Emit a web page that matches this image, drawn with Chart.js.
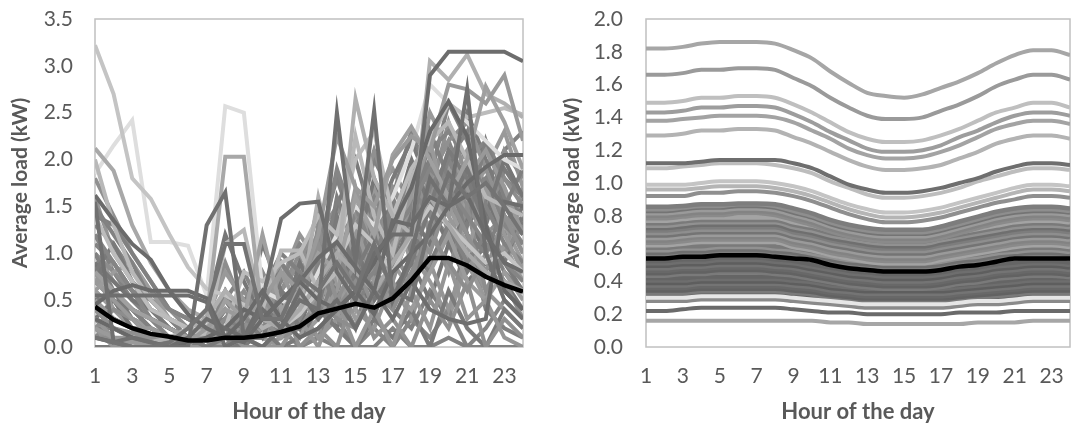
<!DOCTYPE html>
<html lang="en">
<head>
<meta charset="utf-8">
<title>Average load by hour</title>
<script src="https://cdn.jsdelivr.net/npm/chart.js@4.4.1/dist/chart.umd.min.js"></script>
<style>
  body { margin: 0; background: #fff; }
  #leftBox { position: absolute; left: 0; top: 0; width: 540px; height: 427px; }
  #rightBox { position: absolute; left: 540px; top: 0; width: 531px; height: 427px; }
</style>
</head>
<body>
<div id="leftBox"><canvas id="leftChart"></canvas></div>
<div id="rightBox"><canvas id="rightChart"></canvas></div>
<script>
// hours of the day
const hours = [1,2,3,4,5,6,7,8,9,10,11,12,13,14,15,16,17,18,19,20,21,22,23,24];

// left panel: mean profile (black)
const leftMean = [0.43,0.29,0.20,0.14,0.11,0.07,0.07,0.10,0.10,0.12,0.16,0.22,0.36,0.41,0.46,0.42,0.52,0.71,0.95,0.95,0.87,0.75,0.66,0.59];

// left panel: the households that stand out
const leftHighlight = [
  [0.10,0.05,0.00,0.00,0.05,0.20,0.40,1.10,1.10,0.30,0.30,0.75,0.60,0.90,0.60,1.10,0.60,0.50,1.30,1.85,1.60,1.75,1.50,1.20],
  [1.62,1.35,1.10,0.93,0.60,0.35,0.20,0.10,0.05,0.30,0.50,0.70,0.95,1.12,0.85,0.60,1.35,1.30,1.60,1.50,1.62,1.20,0.90,0.80],
  [1.55,0.05,0.10,0.05,0.00,0.00,1.30,1.65,0.10,0.00,0.20,0.50,0.40,2.50,0.90,2.52,0.50,1.00,1.80,1.50,2.75,1.00,0.50,0.30],
  [0.55,0.55,0.55,0.55,0.55,0.55,0.48,0.00,0.10,0.40,0.20,0.60,0.30,0.50,0.20,0.60,0.30,0.70,0.40,0.30,0.25,0.30,1.55,1.50],
  [0.45,0.60,0.66,0.60,0.60,0.60,0.52,0.10,0.30,0.60,0.30,0.10,0.20,0.40,0.60,0.35,0.80,1.00,1.20,1.50,1.75,1.92,2.05,2.05],
  [0.10,0.05,0.00,0.00,0.00,0.10,0.30,0.20,0.10,0.50,1.37,1.53,1.55,0.80,0.50,1.00,1.20,1.20,2.90,3.15,3.15,3.15,3.15,3.05],
  [0.30,0.20,0.10,0.05,0.00,0.05,0.10,0.20,0.40,0.30,0.50,0.70,0.50,0.40,0.60,0.90,1.30,1.70,2.30,2.62,2.25,1.30,0.60,0.40],
  [2.12,1.88,1.30,0.90,0.60,0.40,0.30,2.03,2.03,0.30,0.20,0.40,0.70,1.00,0.80,0.60,0.90,1.20,1.60,1.30,1.00,0.80,0.70,0.60],
  [0.20,0.10,0.05,0.00,0.00,0.05,0.20,0.40,0.30,0.50,0.80,0.60,1.20,2.25,1.70,1.50,2.00,2.25,2.10,2.80,2.75,2.60,2.90,2.20],
  [0.80,0.60,0.40,0.30,0.20,0.10,0.10,0.50,0.30,1.20,0.40,0.60,1.00,0.80,1.60,1.20,2.05,2.35,2.00,1.60,2.00,2.78,2.40,1.90],
  [0.30,0.20,0.10,0.05,0.10,0.20,0.30,0.60,0.40,0.20,0.30,0.40,1.60,0.80,2.65,1.80,1.40,1.20,3.05,2.85,3.12,2.70,2.60,2.45],
  [1.40,1.00,0.70,0.40,0.30,0.20,0.10,0.20,0.80,0.70,0.90,1.00,1.40,1.20,2.00,2.30,1.40,1.90,2.20,2.60,2.45,2.50,2.55,2.48],
  [3.22,2.70,1.80,1.58,1.20,0.85,0.62,0.55,0.45,0.30,0.20,0.35,0.60,0.90,1.30,1.10,0.80,1.20,1.50,1.30,1.10,0.90,1.00,0.80],
  [2.00,1.30,0.80,0.50,0.30,0.20,0.15,1.10,1.25,0.40,1.03,1.03,0.60,0.80,2.25,1.40,1.00,1.80,2.20,2.40,2.00,1.60,1.50,1.40],
  [1.85,2.15,2.42,1.12,1.12,1.08,0.55,2.57,2.50,0.60,0.50,0.40,0.80,1.20,1.50,1.30,1.60,2.10,2.80,2.60,2.40,2.20,2.00,1.90]
];
const leftHighlightColors = ['#737373','#6b6b6b','#707070','#6e6e6e','#6a6a6a','#6d6d6d','#686868','#a8a8a8','#9a9a9a','#a0a0a0','#b0b0b0','#bcbcbc','#c4c4c4','#b8b8b8','#dedede'];

// left panel: the rest of the households
const leftOthers = [
  [1.20,0.90,0.60,0.30,0.10,0.05,0.10,0.60,0.30,0.20,0.40,0.30,0.70,1.00,0.60,0.80,1.20,1.50,1.90,1.70,1.40,1.10,0.90,0.70],
  [0.30,0.20,0.15,0.10,0.10,0.10,0.20,0.40,0.20,0.50,0.30,0.60,1.10,0.50,0.90,0.40,0.70,1.30,1.00,1.60,1.20,0.80,1.40,1.00],
  [0.80,1.10,0.70,0.40,0.20,0.10,0.00,0.10,0.30,0.10,0.60,0.20,0.40,1.40,0.80,1.20,0.50,0.90,1.50,2.10,1.80,1.30,0.90,0.60],
  [0.50,0.30,0.20,0.20,0.10,0.00,0.30,0.80,0.50,0.20,0.10,0.50,0.30,0.60,1.30,0.70,1.00,1.60,2.20,1.40,1.00,1.70,1.20,0.80],
  [1.50,1.20,0.90,0.50,0.30,0.10,0.00,0.00,0.20,0.40,0.20,0.30,0.90,0.40,0.60,1.00,1.40,1.10,1.70,2.00,2.30,1.50,1.10,0.90],
  [0.10,0.10,0.05,0.05,0.05,0.05,0.10,0.30,0.60,0.30,0.10,0.20,0.50,0.30,0.20,0.60,0.40,0.80,1.20,0.90,0.60,1.00,0.70,0.30],
  [0.90,0.70,0.50,0.40,0.30,0.20,0.40,1.20,0.70,0.30,0.50,0.20,0.80,0.60,1.10,0.50,0.80,1.40,1.10,1.50,1.90,1.40,2.00,1.60],
  [0.20,0.00,0.00,0.00,0.00,0.00,0.00,0.20,0.00,0.00,0.00,0.30,0.00,0.50,0.00,0.40,0.00,0.60,0.20,0.90,0.30,0.50,0.10,0.00],
  [1.00,0.60,0.40,0.20,0.10,0.10,0.10,0.30,0.20,0.60,1.00,0.80,0.50,1.60,1.10,0.90,1.50,1.20,2.30,1.80,1.20,1.00,1.50,1.90],
  [0.60,0.80,0.90,0.60,0.30,0.10,0.10,0.00,0.10,0.20,0.30,0.10,0.60,0.90,0.40,1.30,0.60,0.40,0.80,1.20,0.70,0.50,0.80,0.50],
  [1.30,1.10,0.80,0.60,0.40,0.30,0.20,0.50,0.80,0.40,0.20,0.70,1.00,1.30,1.50,1.00,1.20,1.70,1.40,2.00,1.60,1.80,1.30,1.10],
  [0.40,0.20,0.10,0.00,0.00,0.00,0.00,0.10,0.40,0.10,0.50,0.00,0.20,0.00,0.60,0.10,0.30,0.00,0.50,0.20,0.70,0.00,0.30,0.10],
  [0.00,0.00,0.10,0.00,0.00,0.00,0.10,0.00,0.00,0.20,0.00,0.10,0.40,0.20,0.00,0.30,0.10,0.40,0.00,0.60,0.20,0.00,0.40,0.20],
  [0.70,0.50,0.30,0.10,0.00,0.00,0.20,0.40,0.10,0.30,0.80,0.40,1.00,0.70,1.70,0.90,1.10,1.30,1.60,1.40,1.80,2.10,1.70,1.20],
  [1.10,0.90,0.60,0.40,0.20,0.10,0.00,0.00,0.10,0.10,0.20,0.50,0.30,0.80,0.50,0.70,1.60,1.00,0.80,1.30,0.90,1.20,0.80,0.60],
  [0.20,0.40,0.30,0.10,0.10,0.00,0.00,0.20,0.30,0.80,0.40,0.20,1.30,0.40,0.70,0.30,1.00,0.70,1.30,0.80,1.50,0.60,1.00,1.30],
  [0.90,0.50,0.20,0.10,0.00,0.00,0.00,0.10,0.00,0.40,0.20,0.90,0.50,1.20,1.00,1.80,1.30,2.00,1.50,1.10,1.40,1.00,0.70,0.40],
  [0.30,0.10,0.00,0.00,0.00,0.00,0.30,0.60,0.10,0.00,0.10,0.40,0.10,0.30,0.40,0.20,0.70,0.30,0.90,0.40,1.00,0.60,0.40,0.20],
  [1.40,1.30,1.00,0.70,0.40,0.30,0.20,0.30,0.50,0.70,0.90,0.60,1.20,1.00,0.80,1.40,1.00,1.40,2.00,1.70,1.30,2.20,1.60,1.40],
  [0.60,0.40,0.30,0.20,0.10,0.00,0.00,0.10,0.50,0.20,0.00,0.10,0.30,0.70,0.30,0.50,0.90,0.60,1.10,1.50,1.10,0.80,0.60,0.90],
  [0.10,0.30,0.20,0.00,0.00,0.00,0.00,0.00,0.10,0.00,0.20,0.00,0.10,0.30,0.00,0.20,0.00,0.30,0.10,0.40,0.00,0.20,0.50,0.30],
  [1.80,1.40,1.00,0.70,0.40,0.20,0.10,0.20,0.10,0.30,0.60,0.90,1.40,1.10,1.30,0.80,1.70,1.40,1.80,2.20,2.40,1.90,1.40,1.20],
  [0.50,0.60,0.40,0.30,0.20,0.10,0.10,0.20,0.30,1.10,0.60,0.40,0.50,1.00,0.70,1.10,0.80,1.20,0.90,1.30,0.80,1.10,0.90,1.40],
  [0.80,0.40,0.20,0.10,0.10,0.00,0.00,0.00,0.20,0.10,0.00,0.30,0.80,0.30,1.00,0.60,0.40,1.00,0.70,0.30,0.90,0.50,1.10,0.70],
  [0.00,0.00,0.00,0.00,0.00,0.00,0.00,0.00,0.00,0.00,0.00,0.00,0.10,0.00,0.00,0.00,0.20,0.00,0.00,0.10,0.00,0.00,0.00,0.00],
  [1.00,0.80,0.60,0.50,0.30,0.20,0.30,0.90,0.40,0.20,0.60,1.00,0.70,1.30,0.90,1.50,1.10,1.80,1.20,1.60,2.00,1.50,1.80,1.50],
  [0.40,0.30,0.20,0.10,0.00,0.00,0.10,0.30,0.10,0.10,0.30,0.20,0.50,0.20,0.80,0.40,0.60,0.90,0.50,1.10,0.70,0.90,0.60,0.40],
  [1.60,1.00,0.70,0.50,0.40,0.30,0.20,0.10,0.30,0.50,0.30,0.80,0.60,0.90,1.20,0.70,1.00,1.50,1.90,1.20,1.70,1.30,1.00,1.70],
  [0.20,0.10,0.00,0.00,0.00,0.10,0.20,0.50,0.20,0.40,0.10,0.30,0.10,0.60,0.20,0.90,0.40,0.20,0.60,0.30,1.20,0.40,0.20,0.10],
  [0.70,0.90,0.60,0.30,0.10,0.10,0.20,0.10,0.00,0.60,0.90,0.50,0.70,0.40,1.00,1.20,1.50,0.90,1.20,1.90,1.40,1.00,1.30,0.90],
  [0.30,0.20,0.10,0.00,0.00,0.00,0.10,0.00,0.30,0.50,0.70,1.10,0.90,1.90,1.30,1.60,1.20,1.90,2.10,2.30,2.00,2.20,1.80,1.60],
  [0.50,0.30,0.20,0.10,0.10,0.10,0.00,0.30,0.10,0.20,0.40,0.70,1.50,0.90,1.40,2.10,1.50,1.10,1.60,2.40,1.80,1.40,2.10,1.80],
  [0.90,0.60,0.30,0.20,0.10,0.00,0.00,0.00,0.10,0.20,0.50,0.30,0.90,1.50,2.00,1.30,1.80,2.20,1.70,1.90,2.50,2.00,1.50,1.30],
  [0.20,0.10,0.10,0.00,0.00,0.00,0.00,0.10,0.00,0.30,0.20,0.60,0.40,1.10,0.70,1.70,1.00,1.50,2.50,2.10,1.60,1.90,2.30,1.70],
  [1.20,0.80,0.50,0.30,0.20,0.10,0.10,0.40,0.20,0.30,0.90,0.60,1.10,1.80,1.20,2.00,1.60,2.30,1.80,2.60,2.20,1.70,2.10,2.30],
  [0.60,0.40,0.30,0.20,0.10,0.10,0.20,0.30,0.20,0.40,0.60,0.90,1.20,1.50,1.10,1.40,1.70,1.30,1.60,1.90,1.50,1.20,1.40,1.10],
  [0.30,0.50,0.40,0.20,0.10,0.00,0.00,0.10,0.30,0.20,0.50,0.40,0.80,1.20,1.60,1.30,0.90,1.60,2.00,1.70,1.30,1.60,1.20,1.50],
  [1.00,0.70,0.50,0.30,0.20,0.10,0.10,0.20,0.40,0.30,0.70,1.20,0.90,0.70,1.20,1.60,1.90,1.50,1.30,1.70,1.90,1.40,1.70,1.20],
  [0.20,0.20,0.10,0.10,0.00,0.00,0.10,0.40,0.20,0.10,0.40,0.60,1.00,1.30,0.90,1.20,1.40,1.80,2.10,1.50,1.20,1.00,1.30,1.60],
  [0.50,0.30,0.20,0.10,0.10,0.00,0.00,0.00,0.10,0.50,0.30,0.80,1.10,0.80,1.40,1.10,1.30,1.10,1.50,1.80,2.10,1.70,1.40,1.00],
  [0.80,0.60,0.40,0.30,0.20,0.10,0.10,0.30,0.10,0.20,0.30,0.50,0.70,1.10,1.30,1.70,1.50,1.30,1.80,2.20,1.70,1.50,1.20,1.40],
  [0.40,0.20,0.10,0.10,0.00,0.00,0.00,0.20,0.30,0.40,0.20,0.40,0.60,0.90,1.10,0.80,1.20,1.60,1.40,1.20,1.50,1.80,1.60,1.20],
  [0.70,0.50,0.30,0.20,0.10,0.10,0.00,0.10,0.20,0.30,0.50,0.60,0.40,1.00,1.40,1.20,0.90,1.20,1.60,2.00,1.60,1.30,1.90,1.60]
];
const leftOtherColors = ['#858585','#909090','#7a7a7a','#999999','#828282','#8d8d8d','#767676','#959595','#808080','#9c9c9c'];

// right panel: mean profile (black)
const rightMean = [0.54,0.54,0.55,0.55,0.56,0.56,0.56,0.55,0.54,0.53,0.50,0.48,0.47,0.46,0.46,0.46,0.47,0.49,0.50,0.52,0.54,0.54,0.54,0.54];

// right panel: the higher households
const rightUpper = [
  [1.12,1.12,1.12,1.13,1.14,1.14,1.14,1.14,1.12,1.09,1.04,0.99,0.96,0.94,0.94,0.95,0.97,1.00,1.03,1.07,1.10,1.12,1.12,1.11],
  [1.82,1.82,1.83,1.85,1.86,1.86,1.86,1.85,1.81,1.76,1.68,1.61,1.55,1.53,1.52,1.54,1.58,1.62,1.67,1.73,1.78,1.81,1.81,1.78],
  [1.66,1.66,1.67,1.69,1.69,1.70,1.70,1.69,1.64,1.59,1.52,1.46,1.41,1.39,1.39,1.40,1.44,1.48,1.53,1.59,1.63,1.66,1.66,1.63],
  [1.49,1.49,1.50,1.52,1.52,1.53,1.53,1.52,1.48,1.43,1.37,1.31,1.27,1.25,1.25,1.26,1.29,1.33,1.38,1.43,1.46,1.49,1.49,1.46],
  [1.43,1.43,1.44,1.46,1.46,1.47,1.47,1.46,1.42,1.37,1.31,1.26,1.21,1.19,1.19,1.20,1.23,1.28,1.32,1.37,1.41,1.43,1.43,1.41],
  [1.38,1.38,1.39,1.40,1.41,1.41,1.41,1.40,1.37,1.32,1.27,1.21,1.17,1.15,1.15,1.16,1.19,1.23,1.28,1.33,1.36,1.38,1.38,1.36],
  [1.29,1.29,1.30,1.32,1.32,1.33,1.33,1.32,1.28,1.24,1.19,1.14,1.10,1.08,1.08,1.09,1.11,1.15,1.19,1.24,1.27,1.29,1.29,1.27],
  [1.09,1.09,1.10,1.11,1.12,1.12,1.12,1.11,1.09,1.06,1.01,0.97,0.93,0.91,0.91,0.92,0.94,0.97,1.01,1.04,1.07,1.09,1.09,1.08],
  [0.99,0.99,0.99,1.00,1.01,1.01,1.01,1.00,0.98,0.95,0.91,0.87,0.84,0.82,0.82,0.83,0.85,0.88,0.91,0.94,0.97,0.99,0.99,0.98],
  [0.96,0.96,0.96,0.97,0.98,0.98,0.98,0.97,0.95,0.92,0.88,0.84,0.81,0.79,0.79,0.80,0.82,0.85,0.88,0.91,0.94,0.96,0.96,0.95],
  [0.92,0.92,0.92,0.94,0.94,0.95,0.95,0.94,0.92,0.89,0.85,0.81,0.78,0.76,0.76,0.77,0.79,0.82,0.85,0.88,0.90,0.92,0.92,0.91]
];
const rightUpperColors = ['#6e6e6e','#a6a6a6','#9a9a9a','#bfbfbf','#9d9d9d','#a3a3a3','#b3b3b3','#bdbdbd','#c4c4c4','#b5b5b5','#8f8f8f'];

// right panel: the dense middle band
const rightBand = [
  [0.855,0.855,0.86,0.87,0.87,0.875,0.875,0.87,0.845,0.815,0.775,0.745,0.725,0.715,0.715,0.715,0.735,0.765,0.795,0.825,0.845,0.855,0.855,0.845],
  [0.84,0.84,0.85,0.86,0.86,0.87,0.87,0.86,0.83,0.80,0.76,0.73,0.71,0.70,0.70,0.70,0.72,0.75,0.78,0.81,0.83,0.84,0.84,0.83],
  [0.83,0.83,0.84,0.85,0.85,0.86,0.86,0.85,0.82,0.79,0.75,0.72,0.70,0.69,0.69,0.69,0.71,0.74,0.77,0.80,0.82,0.83,0.83,0.82],
  [0.815,0.815,0.825,0.835,0.835,0.845,0.845,0.835,0.805,0.775,0.735,0.705,0.685,0.675,0.675,0.675,0.695,0.725,0.755,0.785,0.805,0.815,0.815,0.805],
  [0.80,0.80,0.81,0.82,0.82,0.83,0.83,0.82,0.79,0.76,0.72,0.69,0.67,0.66,0.66,0.66,0.68,0.71,0.74,0.77,0.79,0.80,0.80,0.79],
  [0.785,0.785,0.795,0.805,0.805,0.815,0.815,0.805,0.775,0.745,0.705,0.675,0.655,0.645,0.645,0.645,0.665,0.695,0.725,0.755,0.775,0.785,0.785,0.775],
  [0.77,0.77,0.78,0.79,0.79,0.79,0.79,0.79,0.76,0.74,0.71,0.69,0.67,0.66,0.66,0.66,0.68,0.70,0.72,0.74,0.76,0.77,0.77,0.76],
  [0.755,0.755,0.765,0.775,0.775,0.775,0.775,0.775,0.745,0.725,0.695,0.675,0.655,0.645,0.645,0.645,0.665,0.685,0.705,0.725,0.745,0.755,0.755,0.745],
  [0.74,0.74,0.75,0.76,0.76,0.76,0.76,0.76,0.73,0.71,0.68,0.66,0.64,0.63,0.63,0.63,0.65,0.67,0.69,0.71,0.73,0.74,0.74,0.73],
  [0.725,0.725,0.735,0.745,0.745,0.745,0.745,0.745,0.715,0.695,0.665,0.645,0.625,0.615,0.615,0.615,0.635,0.655,0.675,0.695,0.715,0.725,0.725,0.715],
  [0.71,0.71,0.72,0.73,0.73,0.73,0.73,0.73,0.70,0.68,0.65,0.63,0.61,0.60,0.60,0.60,0.62,0.64,0.66,0.68,0.70,0.71,0.71,0.70],
  [0.695,0.695,0.705,0.715,0.715,0.715,0.715,0.715,0.685,0.665,0.635,0.615,0.595,0.585,0.585,0.585,0.605,0.625,0.645,0.665,0.685,0.695,0.695,0.685],
  [0.68,0.68,0.69,0.70,0.70,0.70,0.70,0.70,0.67,0.65,0.62,0.60,0.58,0.57,0.57,0.57,0.59,0.61,0.63,0.65,0.67,0.68,0.68,0.67],
  [0.665,0.665,0.675,0.685,0.685,0.685,0.685,0.685,0.655,0.635,0.605,0.585,0.565,0.555,0.555,0.555,0.575,0.595,0.615,0.635,0.655,0.665,0.665,0.655],
  [0.65,0.65,0.66,0.67,0.67,0.67,0.67,0.67,0.64,0.62,0.59,0.57,0.55,0.54,0.54,0.54,0.56,0.58,0.60,0.62,0.64,0.65,0.65,0.64],
  [0.635,0.635,0.645,0.655,0.655,0.655,0.655,0.655,0.625,0.605,0.575,0.555,0.535,0.525,0.525,0.525,0.545,0.565,0.585,0.605,0.625,0.635,0.635,0.625],
  [0.62,0.62,0.63,0.64,0.64,0.64,0.64,0.64,0.61,0.59,0.56,0.54,0.52,0.51,0.51,0.51,0.53,0.55,0.57,0.59,0.61,0.62,0.62,0.61],
  [0.605,0.605,0.615,0.615,0.625,0.625,0.625,0.615,0.605,0.585,0.565,0.545,0.535,0.525,0.525,0.525,0.535,0.555,0.565,0.585,0.595,0.605,0.605,0.595],
  [0.59,0.59,0.60,0.60,0.61,0.61,0.61,0.60,0.59,0.57,0.55,0.53,0.52,0.51,0.51,0.51,0.52,0.54,0.55,0.57,0.58,0.59,0.59,0.58],
  [0.575,0.575,0.585,0.585,0.595,0.595,0.595,0.585,0.575,0.555,0.535,0.515,0.505,0.495,0.495,0.495,0.505,0.525,0.535,0.555,0.565,0.575,0.575,0.565],
  [0.56,0.56,0.57,0.57,0.58,0.58,0.58,0.57,0.56,0.54,0.52,0.50,0.49,0.48,0.48,0.48,0.49,0.51,0.52,0.54,0.55,0.56,0.56,0.55],
  [0.525,0.525,0.535,0.535,0.545,0.545,0.545,0.535,0.525,0.505,0.485,0.465,0.455,0.445,0.445,0.445,0.455,0.475,0.485,0.505,0.515,0.525,0.525,0.515],
  [0.51,0.51,0.52,0.52,0.53,0.53,0.53,0.52,0.51,0.49,0.47,0.45,0.44,0.43,0.43,0.43,0.44,0.46,0.47,0.49,0.50,0.51,0.51,0.50],
  [0.495,0.495,0.505,0.505,0.515,0.515,0.515,0.505,0.495,0.475,0.455,0.435,0.425,0.415,0.415,0.415,0.425,0.445,0.455,0.475,0.485,0.495,0.495,0.485],
  [0.48,0.48,0.49,0.49,0.50,0.50,0.50,0.49,0.48,0.46,0.44,0.42,0.41,0.40,0.40,0.40,0.41,0.43,0.44,0.46,0.47,0.48,0.48,0.47],
  [0.465,0.465,0.475,0.475,0.485,0.485,0.485,0.475,0.465,0.445,0.425,0.405,0.395,0.385,0.385,0.385,0.395,0.415,0.425,0.445,0.455,0.465,0.465,0.455],
  [0.45,0.45,0.46,0.46,0.47,0.47,0.47,0.46,0.45,0.43,0.41,0.39,0.38,0.37,0.37,0.37,0.38,0.40,0.41,0.43,0.44,0.45,0.45,0.44],
  [0.435,0.435,0.445,0.445,0.455,0.455,0.455,0.445,0.435,0.415,0.395,0.375,0.365,0.355,0.355,0.355,0.365,0.385,0.395,0.415,0.425,0.435,0.435,0.425],
  [0.42,0.42,0.42,0.43,0.43,0.43,0.43,0.43,0.42,0.41,0.39,0.38,0.37,0.37,0.37,0.37,0.37,0.38,0.39,0.40,0.41,0.42,0.42,0.42],
  [0.405,0.405,0.405,0.415,0.415,0.415,0.415,0.415,0.405,0.395,0.375,0.365,0.355,0.355,0.355,0.355,0.355,0.365,0.375,0.385,0.395,0.405,0.405,0.405],
  [0.39,0.39,0.39,0.40,0.40,0.40,0.40,0.40,0.39,0.38,0.36,0.35,0.34,0.34,0.34,0.34,0.34,0.35,0.36,0.37,0.38,0.39,0.39,0.39],
  [0.375,0.375,0.375,0.385,0.385,0.385,0.385,0.385,0.375,0.365,0.345,0.335,0.325,0.325,0.325,0.325,0.325,0.335,0.345,0.355,0.365,0.375,0.375,0.375],
  [0.36,0.36,0.36,0.37,0.37,0.37,0.37,0.37,0.36,0.35,0.33,0.32,0.31,0.31,0.31,0.31,0.31,0.32,0.33,0.34,0.35,0.36,0.36,0.36],
  [0.345,0.345,0.345,0.355,0.355,0.355,0.355,0.355,0.345,0.335,0.315,0.305,0.295,0.295,0.295,0.295,0.295,0.305,0.315,0.325,0.335,0.345,0.345,0.345],
  [0.33,0.33,0.33,0.34,0.34,0.34,0.34,0.34,0.33,0.32,0.30,0.29,0.28,0.28,0.28,0.28,0.28,0.29,0.30,0.31,0.32,0.33,0.33,0.33],
  [0.315,0.315,0.315,0.325,0.325,0.325,0.325,0.325,0.315,0.305,0.285,0.275,0.265,0.265,0.265,0.265,0.265,0.275,0.285,0.295,0.305,0.315,0.315,0.315]
];
const rightBandUpperColors = ['#7d7d7d','#8e8e8e','#747474','#9a9a9a','#838383','#8a8a8a','#a3a3a3','#7a7a7a','#919191','#6f6f6f'];
const rightBandLowerColors = ['#656565','#6e6e6e','#5e5e5e','#747474','#686868','#626262','#7a7a7a'];

// right panel: the lowest households
const rightLower = [
  [0.22,0.22,0.23,0.24,0.24,0.24,0.24,0.24,0.23,0.22,0.21,0.21,0.20,0.20,0.20,0.20,0.20,0.21,0.21,0.21,0.22,0.22,0.22,0.22],
  [0.30,0.30,0.30,0.31,0.31,0.31,0.31,0.31,0.30,0.29,0.28,0.27,0.26,0.26,0.26,0.26,0.26,0.27,0.28,0.28,0.29,0.30,0.30,0.30],
  [0.28,0.28,0.28,0.29,0.29,0.29,0.29,0.29,0.28,0.27,0.26,0.25,0.24,0.24,0.24,0.24,0.24,0.25,0.26,0.26,0.27,0.28,0.28,0.28],
  [0.16,0.16,0.16,0.16,0.16,0.16,0.16,0.16,0.16,0.16,0.15,0.15,0.14,0.14,0.14,0.14,0.14,0.14,0.15,0.15,0.15,0.16,0.16,0.16]
];
const rightLowerColors = ['#6a6a6a','#e6e6e6','#8a8a8a','#a6a6a6'];

const lineSet = (data, color, width, smooth) => ({
  data: data,
  borderColor: color,
  borderWidth: width,
  pointRadius: 0,
  fill: false,
  clip: 0,
  tension: smooth ? 0.4 : 0,
  cubicInterpolationMode: smooth ? 'monotone' : 'default'
});

const leftSets = [lineSet(leftMean, '#000000', 4.5, false)];
leftHighlight.forEach((d, i) => leftSets.push(lineSet(d, leftHighlightColors[i], 4, false)));
leftOthers.forEach((d, i) => leftSets.push(lineSet(d, leftOtherColors[i % leftOtherColors.length], 4, false)));

const rightSets = [lineSet(rightMean, '#000000', 4.5, true)];
rightUpper.forEach((d, i) => rightSets.push(lineSet(d, rightUpperColors[i], 4, true)));
rightLower.forEach((d, i) => rightSets.push(lineSet(d, rightLowerColors[i], 4, true)));
rightBand.forEach((d, i) => {
  const pal = i < 21 ? rightBandUpperColors : rightBandLowerColors;
  rightSets.push(lineSet(d, pal[i % pal.length], 4.5, true));
});

const framePlugin = {
  id: 'frame',
  beforeDatasetsDraw(chart) {
    const { ctx, chartArea: a } = chart;
    ctx.save();
    ctx.strokeStyle = '#c0c0c0';
    ctx.lineWidth = 1.5;
    ctx.strokeRect(a.left, a.top, a.right - a.left, a.bottom - a.top);
    ctx.restore();
  }
};

const textColor = '#595959';
const fontFamily = 'Lato, "Open Sans", sans-serif';

// the label gaps go in tickLength (grid hidden), so ticks.padding stays 0
// and does not push the plot area in from the top and right
function buildOptions(yMax, yStep, axisWidth, titlePad, labelGap, padRight) {
  return {
    responsive: true,
    maintainAspectRatio: false,
    animation: false,
    layout: { padding: { left: 0, right: padRight, top: 19, bottom: 0 } },
    plugins: { legend: { display: false }, tooltip: { enabled: false } },
    scales: {
      x: {
        grid: { display: false, drawTicks: true, tickLength: 17 },
        border: { display: false },
        ticks: {
          color: textColor,
          font: { family: fontFamily, size: 21 },
          padding: 0,
          autoSkip: false,
          maxRotation: 0,
          callback: (v, i) => (i % 2 === 0 ? hours[i] : '')
        },
        title: {
          display: true,
          text: 'Hour of the day',
          color: textColor,
          font: { family: fontFamily, size: 22, weight: 'bold' },
          padding: { top: 0, bottom: 2 }
        },
        afterFit: (scale) => { scale.height = 80; }
      },
      y: {
        min: 0,
        max: yMax,
        grid: { display: false, drawTicks: true, tickLength: labelGap },
        border: { display: false },
        ticks: {
          stepSize: yStep,
          color: textColor,
          font: { family: fontFamily, size: 21 },
          padding: 0,
          callback: (v) => Number(v).toFixed(1)
        },
        title: {
          display: true,
          text: 'Average load (kW)',
          color: textColor,
          font: { family: fontFamily, size: 21, weight: 'bold' },
          padding: { top: titlePad, bottom: 0 }
        },
        afterFit: (scale) => { scale.width = axisWidth; }
      }
    }
  };
}

new Chart(document.getElementById('leftChart'), {
  type: 'line',
  data: { labels: hours, datasets: leftSets },
  options: buildOptions(3.5, 0.5, 95, 8, 22, 17),
  plugins: [framePlugin]
});

new Chart(document.getElementById('rightChart'), {
  type: 'line',
  data: { labels: hours, datasets: rightSets },
  options: buildOptions(2.0, 0.2, 106, 20, 23, 1),
  plugins: [framePlugin]
});
</script>
</body>
</html>
